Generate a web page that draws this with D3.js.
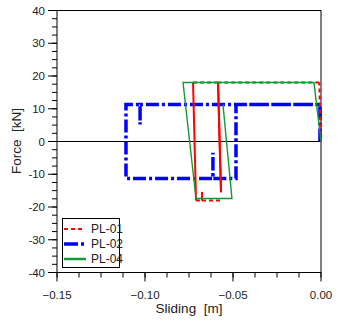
<!DOCTYPE html>
<html><head><meta charset="utf-8">
<script src="https://cdn.jsdelivr.net/npm/d3@7"></script>
<style>body{margin:0;background:#fff}svg{display:block}text{font-family:"Liberation Sans",Arial,sans-serif}</style>
</head><body><svg id="c" width="338" height="322"></svg>
<script>
const xTicks = [-0.15, -0.10, -0.05, 0.00];
const yTicks = [-40, -30, -20, -10, 0, 10, 20, 30, 40];
const seriesNames = ["PL-01", "PL-02", "PL-04"];
// PL-01 (sliding, force)
const pl01 = [[0,0],[-0.001,18],[-0.0585,18],[-0.0568,-15.5],[-0.0585,18],[-0.0727,18],[-0.071,-18],[-0.0676,-18],[-0.0676,-15.4],[-0.0676,-18],[-0.057,-18]];
// PL-02
const pl02 = [[-0.0006,0],[-0.0006,11.3],[-0.1028,11.3],[-0.1028,5.2],[-0.1028,11.3],[-0.1108,11.3],[-0.1108,-11.3],[-0.0614,-11.3],[-0.0614,-3.4],[-0.0614,-11.3],[-0.0483,-11.3],[-0.0483,11.3],[-0.0006,11.3]];
// PL-04
const pl04 = [[0,0],[-0.004,18],[-0.0784,18],[-0.071,-17.4],[-0.0506,-17.4],[-0.0557,11.3]];

const svg = d3.select("#c");
const x = d3.scaleLinear().domain([-0.15, 0]).range([57, 321]);
const y = d3.scaleLinear().domain([-40, 40]).range([272.5, 10.5]);

// minor ticks
const xMinor = d3.range(-0.15, 0.0001, 0.0125);
const yMinor = d3.range(-40, 40.001, 2.5);
const ax = svg.append("g");
ax.selectAll(".xm").data(xMinor).join("line").attr("x1",d=>x(d)).attr("x2",d=>x(d)).attr("y1",y(-40)).attr("y2",y(-40)+5).attr("stroke","#000");
ax.selectAll(".xM").data(xTicks).join("line").attr("x1",d=>x(d)).attr("x2",d=>x(d)).attr("y1",y(-40)).attr("y2",y(-40)+9).attr("stroke","#000");
ax.selectAll(".ym").data(yMinor).join("line").attr("x1",x(-0.15)-5).attr("x2",x(-0.15)).attr("y1",d=>y(d)).attr("y2",d=>y(d)).attr("stroke","#000");
ax.selectAll(".yM").data(yTicks).join("line").attr("x1",x(-0.15)-9).attr("x2",x(-0.15)).attr("y1",d=>y(d)).attr("y2",d=>y(d)).attr("stroke","#000");

ax.selectAll(".xl").data(xTicks).join("text").attr("x",d=>x(d)).attr("y",y(-40)+26).attr("text-anchor","middle").attr("font-size",11.5).attr("fill","#222").text(d=>d3.format(".2f")(d));
ax.selectAll(".yl").data(yTicks).join("text").attr("x",x(-0.15)-12).attr("y",d=>y(d)+4).attr("text-anchor","end").attr("font-size",11.5).attr("fill","#222").text(d=>d);

// zero line
svg.append("line").attr("x1",x(-0.15)).attr("x2",x(0)).attr("y1",y(0)).attr("y2",y(0)).attr("stroke","#000");

// frame
svg.append("rect").attr("x",x(-0.15)).attr("y",y(40)).attr("width",x(0)-x(-0.15)).attr("height",y(-40)-y(40)).attr("fill","none").attr("stroke","#000");

const line = d3.line().x(d=>x(d[0])).y(d=>y(d[1]));
// PL-02 blue dash-dot
svg.append("path").datum(pl02).attr("d",line).attr("fill","none").attr("stroke","#0000ff").attr("stroke-width",3.5).attr("stroke-dasharray","13,3,3,3");
// PL-01 red: dashed; steep interior segments appear solid (dense sampling)
const segs = d3.pairs(pl01);
svg.append("g").selectAll("line").data(segs).join("line")
  .attr("x1",d=>x(d[0][0])).attr("y1",d=>y(d[0][1])).attr("x2",d=>x(d[1][0])).attr("y2",d=>y(d[1][1]))
  .attr("stroke","#ff0000").attr("stroke-width",2)
  .attr("stroke-dasharray",d=>{const dx=Math.abs(x(d[1][0])-x(d[0][0])), dy=Math.abs(y(d[1][1])-y(d[0][1])); return (dy>dx && Math.abs(d[0][0])>0.01) ? null : "4,3";});
// PL-04 green
svg.append("path").datum(pl04).attr("d",line).attr("fill","none").attr("stroke","#119933").attr("stroke-width",1.4);

// legend
const lg = svg.append("g");
lg.append("rect").attr("x",62.5).attr("y",218.5).attr("width",57).attr("height",49).attr("fill","#fff").attr("stroke","#000");
const ly = [229, 244, 259];
lg.append("line").attr("x1",64).attr("x2",84).attr("y1",ly[0]).attr("y2",ly[0]).attr("stroke","#ff0000").attr("stroke-width",2).attr("stroke-dasharray","4,3");
lg.append("line").attr("x1",64).attr("x2",85).attr("y1",ly[1]).attr("y2",ly[1]).attr("stroke","#0000ff").attr("stroke-width",3.5).attr("stroke-dasharray","14,3,3,3");
lg.append("line").attr("x1",64).attr("x2",86).attr("y1",ly[2]).attr("y2",ly[2]).attr("stroke","#119933").attr("stroke-width",2.5);
lg.selectAll("text").data(seriesNames).join("text").attr("x",91).attr("y",(d,i)=>ly[i]+4).attr("font-size",12).attr("fill","#222").text(d=>d);

// axis titles
svg.append("text").attr("x",189).attr("y",313).attr("text-anchor","middle").attr("font-size",13.5).attr("fill","#222").style("white-space","pre").text("Sliding  [m]");
svg.append("text").attr("transform","translate(21,141) rotate(-90)").attr("text-anchor","middle").attr("font-size",13.5).attr("fill","#222").style("white-space","pre").text("Force  [kN]");
</script></body></html>
